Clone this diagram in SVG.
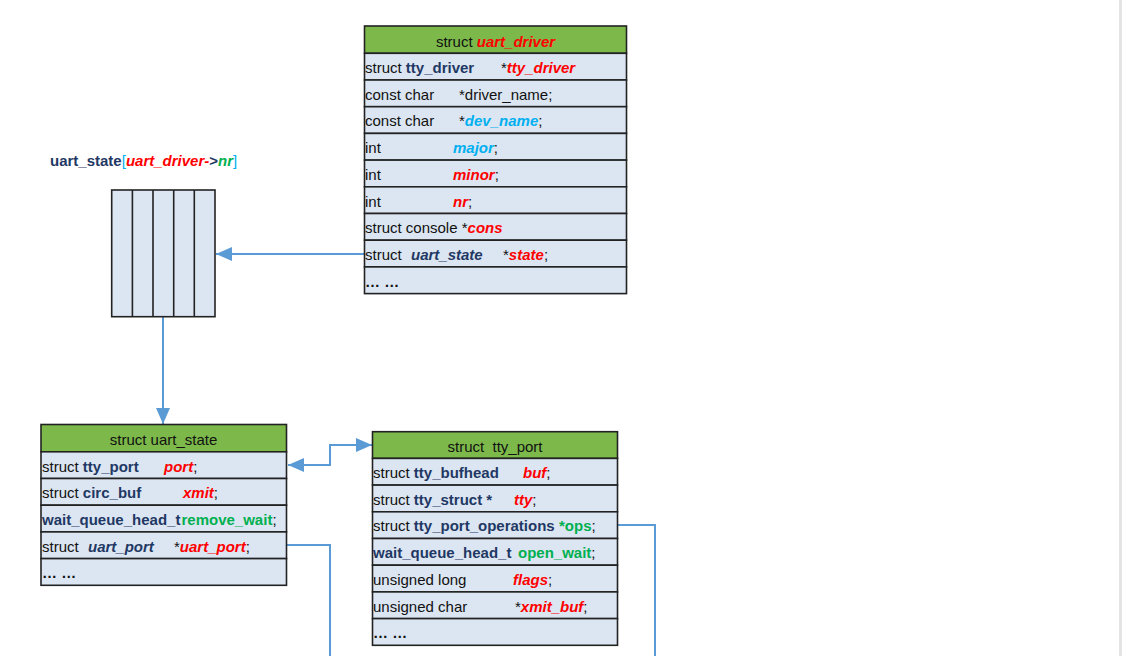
<svg xmlns="http://www.w3.org/2000/svg" width="1122" height="656" viewBox="0 0 1122 656">
<style>
text{font-family:"Liberation Sans",Arial,sans-serif;font-size:15px;fill:#111}
.hd{fill:#7cb94a;stroke:#222;stroke-width:1.6}
.row{fill:#dce6f2;stroke:#222;stroke-width:1.6}
.n{fill:#1f3864;font-weight:bold}
.ni{fill:#1f3864;font-weight:bold;font-style:italic}
.r{fill:#ff0000;font-weight:bold;font-style:italic}
.c{fill:#00b0f0;font-weight:bold;font-style:italic}
.g{fill:#00b050;font-weight:bold}
.gi{fill:#00b050;font-weight:bold;font-style:italic}
.cb{fill:#00b0f0}
.b{font-weight:bold}
.conn{fill:none;stroke:#5b9bd5;stroke-width:2}
</style>
<defs>
<marker id="ah" markerUnits="userSpaceOnUse" markerWidth="16" markerHeight="14" refX="16" refY="7" orient="auto-start-reverse">
<path d="M0,0 L16,7 L0,14 z" fill="#5b9bd5"/>
</marker>
</defs>
<rect x="0" y="0" width="1122" height="656" fill="#ffffff"/>
<rect x="1119" y="0" width="3" height="656" fill="#e4e4e4"/>

<g id="connectors">
<path class="conn" d="M364,254 L216,254" marker-end="url(#ah)"/>
<path class="conn" d="M163,317 L163,424" marker-end="url(#ah)"/>
<path class="conn" d="M288,465 L330,465 L330,445 L372,445" marker-start="url(#ah)" marker-end="url(#ah)"/>
<path class="conn" d="M287,545 L330,545 L330,656"/>
<path class="conn" d="M617,525 L655,525 L655,656"/>
</g>

<g id="uart_driver">
<rect class="hd" x="364.5" y="26" width="262" height="27.3"/>
<text x="495.5" y="46.5" text-anchor="middle">struct <tspan class="r">uart_driver</tspan></text>
<rect class="row" x="364.5" y="53.3" width="262" height="26.7"/>
<rect class="row" x="364.5" y="80" width="262" height="26.7"/>
<rect class="row" x="364.5" y="106.7" width="262" height="26.7"/>
<rect class="row" x="364.5" y="133.4" width="262" height="26.7"/>
<rect class="row" x="364.5" y="160.1" width="262" height="26.7"/>
<rect class="row" x="364.5" y="186.8" width="262" height="26.7"/>
<rect class="row" x="364.5" y="213.5" width="262" height="26.7"/>
<rect class="row" x="364.5" y="240.2" width="262" height="26.7"/>
<rect class="row" x="364.5" y="266.9" width="262" height="26.7"/>
<text x="365" y="73">struct <tspan class="n">tty_driver</tspan></text>
<text x="501" y="73">*<tspan class="r">tty_driver</tspan></text>
<text x="365" y="99.7">const char</text>
<text x="459" y="99.7">*driver_name;</text>
<text x="365" y="126.4">const char</text>
<text x="459" y="126.4">*<tspan class="c">dev_name</tspan>;</text>
<text x="365" y="153.1">int</text>
<text x="453" y="153.1"><tspan class="c">major</tspan>;</text>
<text x="365" y="179.8">int</text>
<text x="453" y="179.8"><tspan class="r">minor</tspan>;</text>
<text x="365" y="206.5">int</text>
<text x="453" y="206.5"><tspan class="r">nr</tspan>;</text>
<text x="365" y="233.2">struct console *<tspan class="r">cons</tspan></text>
<text x="365" y="259.9">struct</text>
<text x="411" y="259.9" class="ni">uart_state</text>
<text x="503" y="259.9">*<tspan class="r">state</tspan>;</text>
<text x="365" y="286.6" class="b">… …</text>
</g>

<g id="uart_state_array">
<text x="50" y="166"><tspan class="n">uart_state</tspan><tspan class="cb">[</tspan><tspan class="r">uart_driver-</tspan><tspan class="n">&gt;</tspan><tspan class="gi">nr</tspan><tspan class="cb">]</tspan></text>
<rect x="111.7" y="190" width="103.3" height="126.7" fill="#dce6f2" stroke="#222" stroke-width="1.6"/>
<path d="M132.4,190 V316.7 M153,190 V316.7 M173.7,190 V316.7 M194.3,190 V316.7" stroke="#222" stroke-width="1.6"/>
</g>

<g id="uart_state">
<rect class="hd" x="41" y="424.5" width="245.5" height="27.3"/>
<text x="163.5" y="445" text-anchor="middle">struct uart_state</text>
<rect class="row" x="41" y="451.8" width="245.5" height="26.7"/>
<rect class="row" x="41" y="478.5" width="245.5" height="26.7"/>
<rect class="row" x="41" y="505.2" width="245.5" height="26.7"/>
<rect class="row" x="41" y="531.9" width="245.5" height="26.7"/>
<rect class="row" x="41" y="558.6" width="245.5" height="26.7"/>
<text x="42" y="471.5">struct <tspan class="n">tty_port</tspan></text>
<text x="164" y="471.5"><tspan class="r">port</tspan>;</text>
<text x="42" y="498.2">struct <tspan class="n">circ_buf</tspan></text>
<text x="183" y="498.2"><tspan class="r">xmit</tspan>;</text>
<text x="42" y="524.9" class="n">wait_queue_head_t</text>
<text x="181.5" y="524.9"><tspan class="g">remove_wait</tspan>;</text>
<text x="42" y="551.6">struct</text>
<text x="88" y="551.6" class="ni">uart_port</text>
<text x="174" y="551.6">*<tspan class="r">uart_port</tspan>;</text>
<text x="42" y="578.3" class="b">… …</text>
</g>

<g id="tty_port">
<rect class="hd" x="372.5" y="431.7" width="245" height="26.7"/>
<text x="495" y="451.5" text-anchor="middle">struct&#160; tty_port</text>
<rect class="row" x="372.5" y="458.4" width="245" height="26.7"/>
<rect class="row" x="372.5" y="485.1" width="245" height="26.7"/>
<rect class="row" x="372.5" y="511.8" width="245" height="26.7"/>
<rect class="row" x="372.5" y="538.5" width="245" height="26.7"/>
<rect class="row" x="372.5" y="565.2" width="245" height="26.7"/>
<rect class="row" x="372.5" y="591.9" width="245" height="26.7"/>
<rect class="row" x="372.5" y="618.6" width="245" height="26.7"/>
<text x="373" y="478">struct <tspan class="n">tty_bufhead</tspan></text>
<text x="523" y="478"><tspan class="r">buf</tspan>;</text>
<text x="373" y="504.7">struct <tspan class="n">tty_struct *</tspan></text>
<text x="514" y="504.7"><tspan class="r">tty</tspan>;</text>
<text x="373" y="531.4">struct <tspan class="n">tty_port_operations</tspan></text>
<text x="559" y="531.4"><tspan class="g">*ops</tspan>;</text>
<text x="373" y="558.1" class="n">wait_queue_head_t</text>
<text x="518" y="558.1"><tspan class="g">open_wait</tspan>;</text>
<text x="373" y="584.8">unsigned long</text>
<text x="513" y="584.8"><tspan class="r">flags</tspan>;</text>
<text x="373" y="611.5">unsigned char</text>
<text x="515" y="611.5">*<tspan class="r">xmit_buf</tspan>;</text>
<text x="373" y="638.2" class="b">… …</text>
</g>
</svg>
